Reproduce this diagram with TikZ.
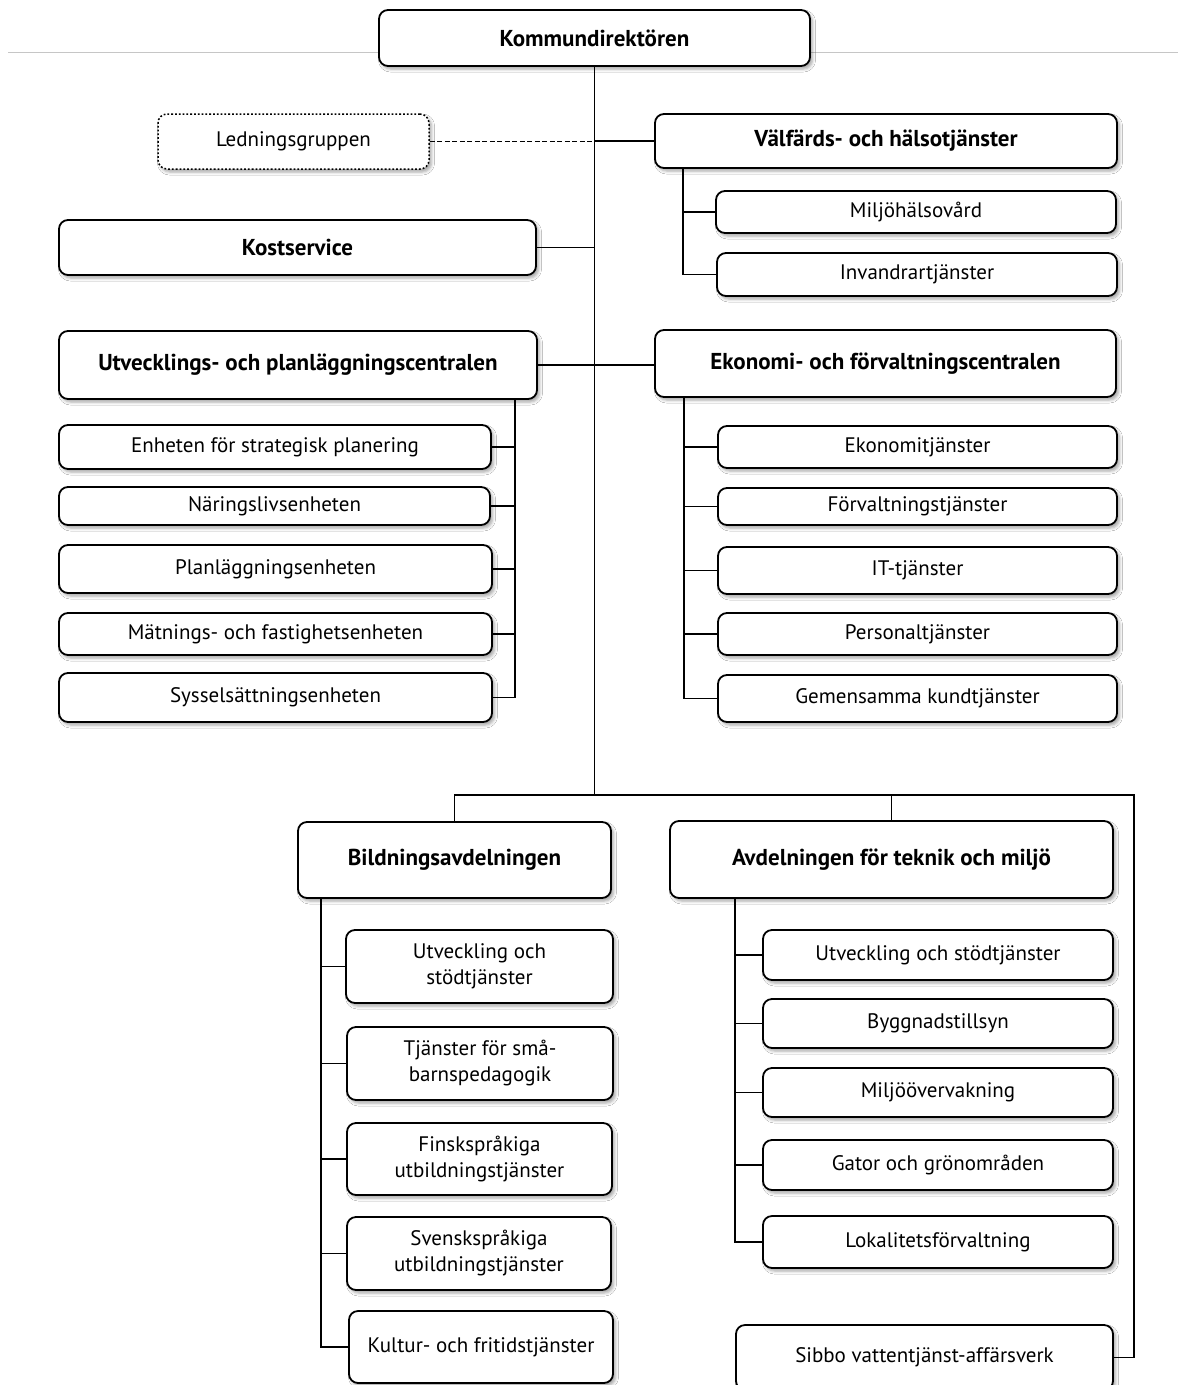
\documentclass[tikz,border=0pt]{standalone}
\usepackage{fontspec}
\setmainfont{PT Sans}
\usetikzlibrary{shadows.blur}
\tikzset{
  base/.style={draw, line width=1.8pt, rounded corners=9pt, fill=white, inner sep=0pt, align=center,
    blur shadow={shadow xshift=2.5pt, shadow yshift=-3pt, shadow blur radius=3pt, shadow opacity=35}},
  hbox/.style={base, font=\fontsize{23}{27}\selectfont\bfseries},
  sbox/.style={base, font=\fontsize{21}{26}\selectfont},
  dbox/.style={sbox, dotted, line width=1.5pt},
  conn/.style={line width=1.8pt},
}
\newcommand\ob[7]{\node[#6, minimum width={(#4-#2)*1pt}, minimum height={(#5-#3)*1pt}] (#1) at ({(#2+#4)/2},{(#3+#5)/2}) {#7};}
\begin{document}
\begin{tikzpicture}[x=1pt,y=-1pt]
\useasboundingbox (0,0) rectangle (1180,1385);
\fill[white] (0,0) rectangle (1180,1385);
\clip (0,0) rectangle (1180,1385);
\coordinate (gl) at (8,52);
\coordinate (gr) at (1178,52);
\draw[gray!45, line width=1pt] (gl) -- (gr);
\ob{kd}{379}{10}{810}{66}{hbox}{Kommundirektören}
\ob{lg}{158}{114}{429}{169}{dbox}{Ledningsgruppen}
\ob{vh}{655}{114}{1117}{168}{hbox}{Välfärds- och hälsotjänster}
\ob{mh}{716}{191}{1116}{233}{sbox}{Miljöhälsovård}
\ob{iv}{717}{253}{1117}{296}{sbox}{Invandrartjänster}
\ob{ks}{59}{220}{536}{275}{hbox}{Kostservice}
\ob{up}{59}{331}{537}{399}{hbox}{Utvecklings- och planläggningscentralen}
\ob{ek}{655}{330}{1116}{397}{hbox}{Ekonomi- och förvaltningscentralen}
\ob{u1}{59}{425}{491}{469}{sbox}{Enheten för strategisk planering}
\ob{u2}{59}{487}{490}{525}{sbox}{Näringslivsenheten}
\ob{u3}{59}{545}{492}{593}{sbox}{Planläggningsenheten}
\ob{u4}{59}{613}{492}{655}{sbox}{Mätnings- och fastighetsenheten}
\ob{u5}{59}{673}{492}{722}{sbox}{Sysselsättningsenheten}
\ob{e1}{718}{426}{1117}{468}{sbox}{Ekonomitjänster}
\ob{e2}{718}{488}{1117}{525}{sbox}{Förvaltningstjänster}
\ob{e3}{718}{547}{1117}{594}{sbox}{IT-tjänster}
\ob{e4}{718}{613}{1117}{655}{sbox}{Personaltjänster}
\ob{e5}{718}{675}{1117}{722}{sbox}{Gemensamma kundtjänster}
\ob{ba}{298}{822}{611}{898}{hbox}{Bildningsavdelningen}
\ob{at}{670}{821}{1113}{898}{hbox}{Avdelningen för teknik och miljö}
\ob{b1}{346}{930}{613}{1003}{sbox}{Utveckling och\\stödtjänster}
\ob{b2}{347}{1027}{613}{1100}{sbox}{Tjänster för små-\\barnspedagogik}
\ob{b3}{347}{1123}{612}{1195}{sbox}{Finskspråkiga\\utbildningstjänster}
\ob{b4}{347}{1217}{611}{1290}{sbox}{Svenskspråkiga\\utbildningstjänster}
\ob{b5}{349}{1311}{613}{1383}{sbox}{Kultur- och fritidstjänster}
\ob{a1}{763}{930}{1113}{980}{sbox}{Utveckling och stödtjänster}
\ob{a2}{763}{999}{1113}{1048}{sbox}{Byggnadstillsyn}
\ob{a3}{763}{1068}{1113}{1117}{sbox}{Miljöövervakning}
\ob{a4}{763}{1140}{1113}{1190}{sbox}{Gator och grönområden}
\ob{a5}{763}{1216}{1113}{1268}{sbox}{Lokalitetsförvaltning}
\ob{sv}{736}{1325}{1113}{1390}{sbox}{Sibbo vattentjänst-affärsverk}
% connectors
\coordinate (tb) at (594.5,795);
\coordinate (br) at (1134,795);
\draw[conn] (kd.south) -- (tb);
\draw[conn, dashed, dash pattern=on 5pt off 2.5pt, line width=1.5pt] (lg.east) -- (lg.east -| tb);
\draw[conn] (vh.west) -- (vh.west -| tb);
\draw[conn] (ks.east) -- (ks.east -| tb);
\draw[conn] (up.east) -- (up.east -| ek.west);
% Välfärd subtree
\coordinate (vht) at (683,168);
\draw[conn] (vht) |- (iv.west);
\draw[conn] (mh.west) -- (mh.west -| vht);
% Utv subtree
\coordinate (upt) at (515,399);
\draw[conn] (upt) |- (u5.east);
\foreach \n in {u1,u2,u3,u4} \draw[conn] (\n.east) -- (\n.east -| upt);
% Eko subtree
\coordinate (ekt) at (684,397);
\draw[conn] (ekt) |- (e5.west);
\foreach \n in {e1,e2,e3,e4} \draw[conn] (\n.west) -- (\n.west -| ekt);
% bottom bar
\draw[conn] (ba.north) -- (ba.north |- tb) -- (br) |- (sv.east);
\draw[conn] (at.north) -- (at.north |- tb);
% Bildning subtree
\coordinate (bat) at (321,898);
\draw[conn] (bat) |- (b5.west);
\foreach \n in {b1,b2,b3,b4} \draw[conn] (\n.west) -- (\n.west -| bat);
% Avdelning subtree
\coordinate (att) at (735,898);
\draw[conn] (att) |- (a5.west);
\foreach \n in {a1,a2,a3,a4} \draw[conn] (\n.west) -- (\n.west -| att);
\end{tikzpicture}
\end{document}
